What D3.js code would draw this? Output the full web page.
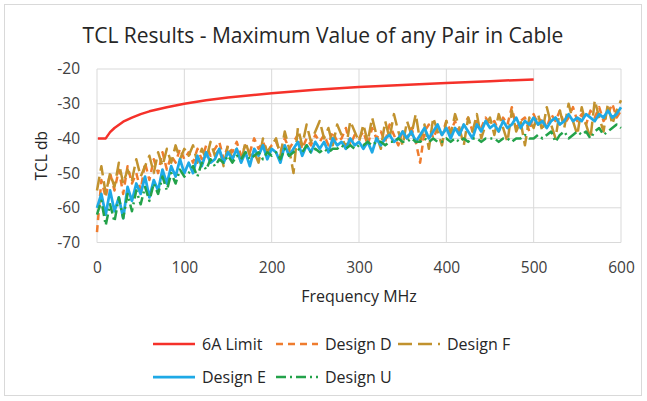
<!DOCTYPE html>
<html>
<head>
<meta charset="utf-8">
<script src="https://cdn.jsdelivr.net/npm/d3@7.9.0/dist/d3.min.js"></script>
<style>
  body { margin: 0; background: #fff; }
  svg { display: block; font-family: "Open Sans", "Liberation Sans", sans-serif; }
</style>
</head>
<body>
<svg id="chart" width="647" height="401"></svg>
<script>
// Data
const limitFreq = [1, 10, 15, 20, 30, 40, 50, 60, 80, 100, 125, 150, 200, 250, 300, 350, 400, 450, 500];
const limitVals = [-40, -40, -38.2, -37, -35.2, -34, -33, -32.2, -31, -30, -29, -28.2, -27, -26, -25.2, -24.6, -24, -23.5, -23];

// design traces sampled every 5 MHz, 0..600
const freqs = d3.range(0, 601, 5);

const designD = [
  -67, -52, -57, -50, -55, -49, -56, -48, -53, -50, -55,
  -47, -52, -46, -50, -44, -49, -45, -47, -43, -46,
  -44, -47, -43, -46, -42, -45, -43, -41, -46, -42,
  -44, -41, -45, -42, -44, -40, -43, -41, -44, -42,
  -41, -44, -40, -43, -41, -39, -43, -40, -42, -39,
  -41, -39, -42, -38, -41, -40, -37, -42, -39, -40,
  -38, -42, -37, -40, -38, -41, -36, -39, -42, -38,
  -40, -37, -41, -47, -38, -36, -40, -37, -39, -35,
  -38, -35, -39, -36, -34, -38, -35, -37, -34, -36,
  -35, -38, -34, -36, -31, -37, -35, -34, -38, -33,
  -36, -34, -37, -33, -35, -32, -36, -34, -31, -35,
  -33, -36, -32, -34, -31, -35, -33, -30, -34, -32
];

const designF = [
  -55, -48, -56, -50, -54, -47, -53, -49, -52, -46, -51,
  -48, -45, -50, -44, -48, -43, -47, -42, -46, -43,
  -45, -42, -47, -43, -46, -41, -45, -43, -48, -42,
  -46, -43, -47, -41, -45, -44, -47, -40, -44, -42,
  -40, -45, -38, -43, -50, -37, -42, -36, -41, -38,
  -35, -40, -37, -42, -36, -39, -43, -35, -38, -41,
  -36, -41, -34, -39, -43, -35, -40, -33, -38, -42,
  -35, -39, -33, -41, -36, -43, -34, -38, -42, -35,
  -39, -33, -37, -42, -34, -38, -33, -40, -36, -34,
  -39, -33, -37, -41, -32, -38, -35, -42, -34, -37,
  -33, -38, -31, -36, -40, -32, -37, -30, -35, -39,
  -31, -36, -40, -29, -34, -38, -30, -36, -32, -29
];

const designE = [
  -60, -56, -62, -55, -61, -57, -63, -54, -58, -53, -56,
  -51, -57, -52, -55, -49, -53, -48, -51, -46, -50,
  -47, -50, -45, -48, -44, -47, -46, -43, -47, -44,
  -46, -43, -47, -44, -48, -43, -45, -42, -46, -43,
  -44, -47, -42, -45, -43, -41, -45, -42, -44, -41,
  -43, -41, -44, -40, -42, -41, -43, -40, -42, -41,
  -43, -41, -44, -40, -42, -40, -39, -41, -40, -38,
  -40, -38, -41, -39, -37, -40, -38, -36, -39, -37,
  -40, -37, -39, -36, -38, -40, -36, -38, -35, -37,
  -36, -38, -35, -37, -36, -34, -37, -35, -36, -34,
  -36, -35, -37, -35, -34, -36, -35, -33, -35, -34,
  -35, -33, -34, -35, -33, -34, -32, -34, -33, -31
];

const designU = [
  -62, -58, -65, -59, -64, -57, -63, -56, -61, -55, -59,
  -54, -58, -53, -56, -51, -55, -50, -53, -49, -51,
  -50, -48, -51, -47, -49, -46, -48, -46, -47, -45,
  -47, -45, -46, -44, -46, -45, -44, -46, -44, -45,
  -44, -46, -43, -45, -44, -43, -44, -42, -44, -43,
  -44, -43, -44, -43, -43, -42, -43, -42, -43, -42,
  -42, -41, -42, -41, -41, -42, -41, -41, -40, -41,
  -41, -40, -41, -41, -40, -41, -40, -41, -41, -40,
  -41, -40, -41, -40, -41, -40, -40, -41, -40, -40,
  -40, -41, -40, -40, -41, -40, -40, -39, -40, -40,
  -39, -40, -39, -38, -41, -39, -38, -40, -39, -38,
  -39, -38, -40, -38, -37, -39, -38, -37, -36, -37
];

const xTicks = [0, 100, 200, 300, 400, 500, 600];
const yTicks = [-20, -30, -40, -50, -60, -70];

const series = [
  { name: "6A Limit", color: "#f5312a", dash: null, width: 2.5, x: limitFreq, y: limitVals },
  { name: "Design D", color: "#ef7c2e", dash: "7,5", width: 2.5, x: freqs, y: designD },
  { name: "Design F", color: "#c1922e", dash: "14,6", width: 2.5, x: freqs, y: designF },
  { name: "Design E", color: "#1ea9e6", dash: null, width: 2.75, x: freqs, y: designE },
  { name: "Design U", color: "#23a24a", dash: "10,4,2,4", width: 2.5, x: freqs, y: designU }
];

const svg = d3.select("#chart");
const M = { left: 97, right: 621, top: 69, bottom: 242.5 };

const x = d3.scaleLinear().domain([0, 600]).range([M.left, M.right]);
const y = d3.scaleLinear().domain([-70, -20]).range([M.bottom, M.top]);

// chart frame
svg.append("rect")
  .attr("x", 4.5).attr("y", 4.5)
  .attr("width", 637).attr("height", 391)
  .attr("fill", "#fff").attr("stroke", "#d9d9d9");

// gridlines
svg.append("g")
  .selectAll("line")
  .data(yTicks)
  .join("line")
  .attr("x1", M.left).attr("x2", M.right)
  .attr("y1", (d) => y(d)).attr("y2", (d) => y(d))
  .attr("stroke", "#d9d9d9").attr("stroke-width", 1);

svg.append("g")
  .selectAll("line")
  .data(xTicks)
  .join("line")
  .attr("x1", (d) => x(d)).attr("x2", (d) => x(d))
  .attr("y1", M.top).attr("y2", M.bottom)
  .attr("stroke", "#d9d9d9").attr("stroke-width", 1);

// axes (labels only, Excel style, plain hyphen minus)
const fmt = (d) => String(d);
const xAxis = svg.append("g")
  .attr("transform", `translate(0,${M.bottom})`)
  .call(d3.axisBottom(x).tickValues(xTicks).tickFormat(fmt).tickSize(0).tickPadding(19));
const yAxis = svg.append("g")
  .attr("transform", "translate(80,0)")
  .call(d3.axisLeft(y).tickValues(yTicks).tickFormat(fmt).tickSize(0).tickPadding(0));

[xAxis, yAxis].forEach((g) => {
  g.select(".domain").remove();
  g.selectAll("text")
    .attr("fill", "#404040")
    .style("font-size", "15.5px")
    .style("font-family", '"Open Sans", sans-serif');
});

// lines
const line = d3.line()
  .x((d) => x(d[0]))
  .y((d) => y(d[1]));

svg.append("g")
  .selectAll("path")
  .data(series)
  .join("path")
  .attr("d", (s) => line(s.x.map((f, i) => [f, s.y[i]])))
  .attr("fill", "none")
  .attr("stroke", (s) => s.color)
  .attr("stroke-width", (s) => s.width)
  .attr("stroke-dasharray", (s) => s.dash)
  .attr("stroke-linejoin", "round");

// titles
svg.append("text")
  .attr("x", 323).attr("y", 43)
  .attr("text-anchor", "middle")
  .attr("fill", "#262626")
  .style("font-size", "21px")
  .text("TCL Results - Maximum Value of any Pair in Cable");

svg.append("text")
  .attr("transform", `translate(47,${(M.top + M.bottom) / 2}) rotate(-90)`)
  .attr("text-anchor", "middle")
  .attr("fill", "#262626")
  .style("font-size", "15.5px")
  .text("TCL db");

svg.append("text")
  .attr("x", (M.left + M.right) / 2).attr("y", 302)
  .attr("text-anchor", "middle")
  .attr("fill", "#262626")
  .style("font-size", "16px")
  .text("Frequency MHz");

// legend
const legendPos = [
  { x: 153, y: 344 }, { x: 276, y: 344 }, { x: 398, y: 344 },
  { x: 153, y: 377 }, { x: 276, y: 377 }
];

const leg = svg.append("g")
  .selectAll("g")
  .data(series)
  .join("g")
  .attr("transform", (s, i) => `translate(${legendPos[i].x},${legendPos[i].y})`);

leg.append("line")
  .attr("x1", 0).attr("x2", 42)
  .attr("stroke", (s) => s.color)
  .attr("stroke-width", (s) => s.width)
  .attr("stroke-dasharray", (s) => s.dash);

leg.append("text")
  .attr("x", 49).attr("y", 5.5)
  .attr("fill", "#262626")
  .style("font-size", "16px")
  .text((s) => s.name);
</script>
</body>
</html>
